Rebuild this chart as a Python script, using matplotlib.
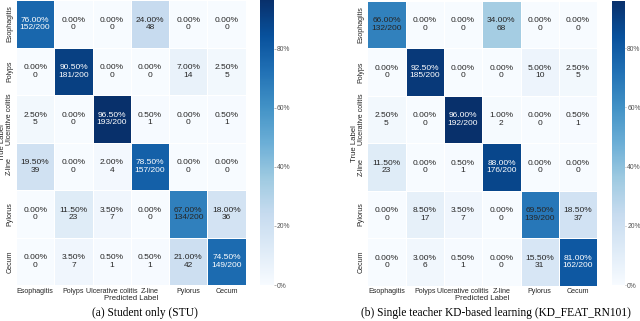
import numpy as np
import matplotlib
matplotlib.use("Agg")
from matplotlib import pyplot as plt
from matplotlib.ticker import FuncFormatter

classes = ["Esophagitis", "Polyps", "Ulcerative colitis", "Z-line", "Pylorus", "Cecum"]

# confusion matrix counts (rows = true, cols = predicted), 200 images per class
stu_counts = [
    [152, 0, 0, 48, 0, 0],
    [0, 181, 0, 0, 14, 5],
    [5, 0, 193, 1, 0, 1],
    [39, 0, 4, 157, 0, 0],
    [0, 23, 7, 0, 134, 36],
    [0, 7, 1, 1, 42, 149],
]
kd_counts = [
    [132, 0, 0, 68, 0, 0],
    [0, 185, 0, 0, 10, 5],
    [5, 0, 192, 2, 0, 1],
    [23, 0, 1, 176, 0, 0],
    [0, 17, 7, 0, 139, 37],
    [0, 6, 1, 0, 31, 162],
]
n_per_class = 200

captions = ["(a) Student only (STU)", "(b) Single teacher KD-based learning (KD_FEAT_RN101)"]

SANS = ["Liberation Sans Narrow", "Liberation Sans", "DejaVu Sans"]
GREY = "#262626"


def draw_cm(fig, ax_rect, cax_rect, counts, caption, caption_x, cb_ticklen):
    cm = np.array(counts, dtype=float)
    pct = cm / n_per_class * 100
    vmax = pct.max()
    cmap = plt.get_cmap("Blues")

    ax = fig.add_axes(ax_rect)
    mesh = ax.pcolormesh(pct, cmap=cmap, vmin=0, vmax=vmax, edgecolors="white", linewidth=0.6)
    ax.set_xlim(0, 6)
    ax.set_ylim(6, 0)
    for s in ax.spines.values():
        s.set_visible(False)

    for i in range(6):
        for j in range(6):
            c = int(cm[i, j])
            second = f"{c}/{n_per_class}" if i == j else f"{c}"
            r, g, b, _ = cmap(pct[i, j] / vmax)
            lum = 0.2126 * r + 0.7152 * g + 0.0722 * b
            color = "white" if lum < 0.408 else GREY
            ax.text(j + 0.5, i + 0.5, f"{pct[i, j]:.2f}%\n{second}", ha="center", va="center",
                    fontsize=6, color=color, family=SANS, linespacing=1.1)

    ax.set_xticks(np.arange(6) + 0.5)
    ax.set_xticklabels(classes, fontsize=5.1, color=GREY, family=SANS)
    ax.set_yticks(np.arange(6) + 0.5)
    ax.set_yticklabels(classes, fontsize=5.1, color=GREY, family=SANS, rotation=90, va="center")
    ax.tick_params(length=0, pad=2)
    ax.set_xlabel("Predicted Label", fontsize=5.6, color=GREY, family=SANS, labelpad=0)
    ax.set_ylabel("True Label", fontsize=5.6, color=GREY, family=SANS, labelpad=0)

    cax = fig.add_axes(cax_rect)
    cb = fig.colorbar(mesh, cax=cax)
    cb.outline.set_visible(False)
    cb.set_ticks([0, 20, 40, 60, 80])
    cb.ax.yaxis.set_major_formatter(FuncFormatter(lambda v, p: f"{v:.0f}%"))
    cb.ax.tick_params(length=cb_ticklen, width=0.5, color="#999999", labelsize=4.9,
                      labelcolor="#555555", pad=0.6)
    for t in cb.ax.get_yticklabels():
        t.set_family(SANS)

    fig.text(caption_x, 0.006, caption, ha="center", va="bottom", fontsize=8.3,
             family=["Liberation Serif", "DejaVu Serif"])


fig = plt.figure(figsize=(6.4, 3.21), dpi=100)
draw_cm(fig, [0.025, 0.112, 0.359, 0.888], [0.407, 0.112, 0.021, 0.888],
        stu_counts, captions[0], 0.227, 1.5)
draw_cm(fig, [0.574, 0.11, 0.359, 0.887], [0.956, 0.112, 0.021, 0.885],
        kd_counts, captions[1], 0.775, 0.8)
fig.savefig("out.png", dpi=100)
